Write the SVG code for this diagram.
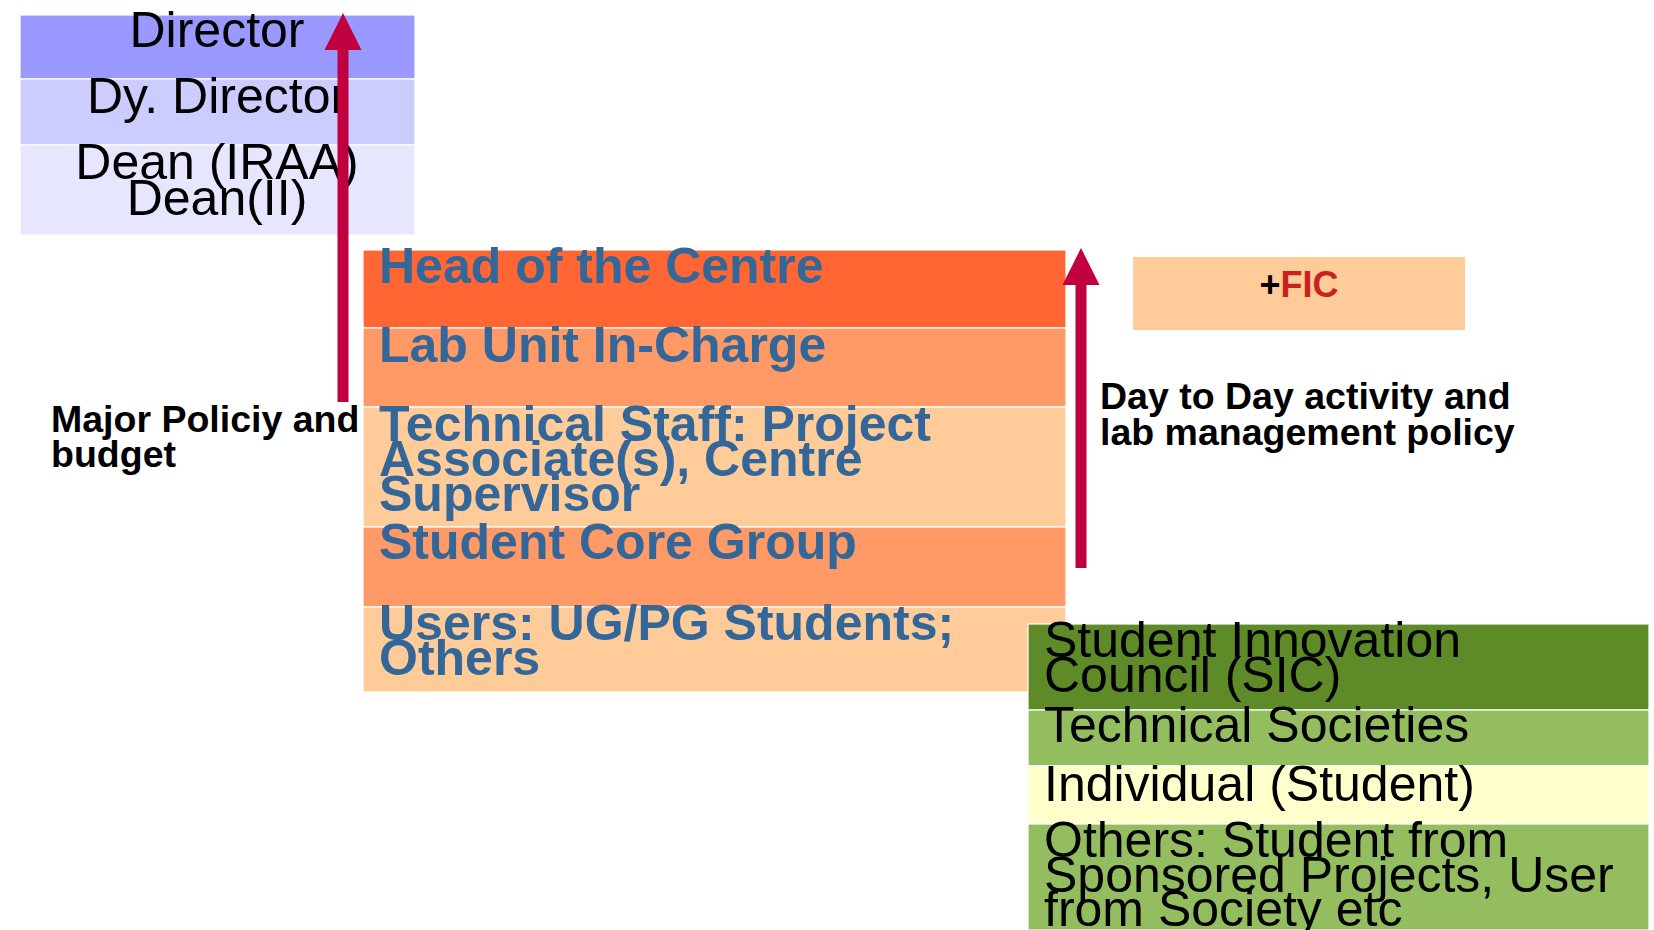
<svg xmlns="http://www.w3.org/2000/svg" width="1654" height="930" viewBox="0 0 1654 930">
  <style>
    .row { stroke: #ffffff; stroke-width: 1.2; }
    .top { font-family: "Liberation Sans", Arial, sans-serif; font-size: 50px; fill: #000000; text-anchor: middle; }
    .mid { font-family: "Liberation Sans", Arial, sans-serif; font-size: 50px; font-weight: bold; fill: #336699; }
    .grn { font-family: "Liberation Sans", Arial, sans-serif; font-size: 50px; fill: #000000; }
    .note { font-family: "Liberation Sans", Arial, sans-serif; font-size: 37.5px; font-weight: bold; fill: #000000; }
    .fic { font-family: "Liberation Sans", Arial, sans-serif; font-size: 36px; font-weight: bold; text-anchor: middle; }
    .arrow { stroke: #c0003f; stroke-width: 11; fill: none; }
  </style>
  <defs>
    <marker id="head" markerUnits="userSpaceOnUse" markerWidth="37" markerHeight="38" refX="0" refY="18.5" orient="auto" overflow="visible">
      <path d="M0,0 L37,18.5 L0,37 Z" fill="#c0003f"/>
    </marker>
  </defs>

  <rect width="1654" height="930" fill="#ffffff"/>

  <!-- institute level -->
  <g id="institute">
    <rect class="row" x="20" y="15" width="395" height="64" fill="#9999ff"/>
    <rect class="row" x="20" y="79" width="395" height="66" fill="#ccccff"/>
    <rect class="row" x="20" y="145" width="395" height="90" fill="#e6e6ff"/>
    <text class="top" x="217" y="47">Director</text>
    <text class="top" x="217" y="113">Dy. Director</text>
    <text class="top" x="217" y="179">Dean (IRAA)</text>
    <text class="top" x="217" y="215">Dean(II)</text>
  </g>

  <!-- centre level -->
  <g id="centre">
    <rect class="row" x="363" y="250" width="703" height="78" fill="#ff6633"/>
    <rect class="row" x="363" y="328" width="703" height="79" fill="#ff9966"/>
    <rect class="row" x="363" y="407" width="703" height="120" fill="#ffcc99"/>
    <rect class="row" x="363" y="527" width="703" height="80" fill="#ff9966"/>
    <rect class="row" x="363" y="607" width="703" height="85" fill="#ffcc99"/>
    <text class="mid" x="379" y="283">Head of the Centre</text>
    <text class="mid" x="379" y="362">Lab Unit In-Charge</text>
    <text class="mid" x="379" y="441">Technical Staff: Project</text>
    <text class="mid" x="379" y="476">Associate(s), Centre</text>
    <text class="mid" x="379" y="511">Supervisor</text>
    <text class="mid" x="379" y="559">Student Core Group</text>
    <text class="mid" x="379" y="640">Users: UG/PG Students;</text>
    <text class="mid" x="379" y="675">Others</text>
  </g>

  <!-- faculty in-charge -->
  <g id="fic">
    <rect x="1133" y="257" width="332" height="73" fill="#ffcc99"/>
    <text class="fic" x="1299" y="297"><tspan fill="#000000">+</tspan><tspan fill="#c9211e">FIC</tspan></text>
  </g>

  <!-- student bodies -->
  <g id="students">
    <rect class="row" x="1028" y="624" width="621" height="86" fill="#5e8a28"/>
    <rect class="row" x="1028" y="710" width="621" height="56" fill="#93bd5f"/>
    <rect class="row" x="1028" y="766" width="621" height="58" fill="#ffffcc"/>
    <rect class="row" x="1028" y="824" width="621" height="106" fill="#93bd5f"/>
    <text class="grn" x="1044" y="657">Student Innovation</text>
    <text class="grn" x="1044" y="692">Council (SIC)</text>
    <text class="grn" x="1044" y="742">Technical Societies</text>
    <text class="grn" x="1044" y="801">Individual (Student)</text>
    <text class="grn" x="1044" y="857">Others: Student from</text>
    <text class="grn" x="1044" y="892">Sponsored Projects, User</text>
    <text class="grn" x="1044" y="926">from Society etc</text>
  </g>

  <!-- arrow labels -->
  <g id="label-major">
    <text class="note" x="51" y="432">Major Policiy and</text>
    <text class="note" x="51" y="467">budget</text>
  </g>
  <g id="label-daily">
    <text class="note" x="1100" y="409">Day to Day activity and</text>
    <text class="note" x="1100" y="445">lab management policy</text>
  </g>

  <!-- connectors -->
  <g id="connectors">
    <line class="arrow" x1="343" y1="402" x2="343" y2="50" marker-end="url(#head)"/>
    <line class="arrow" x1="1081" y1="568" x2="1081" y2="285" marker-end="url(#head)"/>
  </g>
</svg>
